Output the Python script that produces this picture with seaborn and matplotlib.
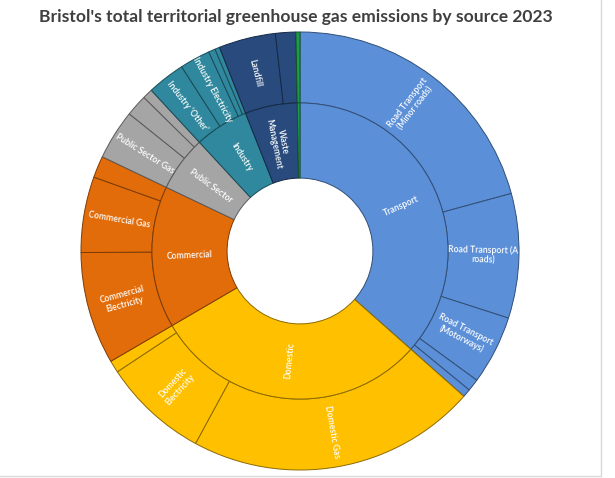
import numpy as np
import pandas as pd
import matplotlib
matplotlib.use("Agg")
import matplotlib.pyplot as plt
import matplotlib.colors as mcolors
from matplotlib.lines import Line2D
import seaborn as sns

# sectors (inner ring), clockwise from 12 o'clock
sectors = ["Transport", "Domestic", "Commercial", "Public Sector",
           "Industry", "Waste\nManagement", "Agriculture"]
sector_colours = ["#5B8FD8", "#FFC000", "#E36C0A", "#A5A5A5",
                  "#2F889D", "#284A7C", "#1F9A48"]

# sources (outer ring), % share of total emissions
sources = ["Road Transport\n(Minor roads)", "Road Transport (A\nroads)",
           "Road Transport\n(Motorways)", "Rail", "Other Transport",
           "Domestic Gas", "Domestic\nElectricity", "Domestic Other",
           "Commercial\nElectricity", "Commercial Gas", "Commercial Other",
           "Public Sector Gas", "Public Sector Electricity", "Public Sector Other",
           "Industry \u2018Other\u2019", "Industry Electricity", "Industry Gas",
           "Industry Other Fuels",
           "Landfill", "Wastewater",
           "Agriculture"]
source_sector = ["Transport"] * 5 + ["Domestic"] * 3 + ["Commercial"] * 3 + \
                ["Public Sector"] * 3 + ["Industry"] * 4 + \
                ["Waste\nManagement"] * 2 + ["Agriculture"]
source_share = [20.8, 9.2, 5.1, 0.9, 0.6,
                21.4, 7.8, 0.9,
                8.3, 5.6, 1.6,
                3.7, 1.6, 0.75,
                2.8, 2.25, 0.5, 0.35,
                4.2, 1.5,
                0.3]

df = pd.DataFrame({"source": sources, "sector": source_sector, "share": source_share})
totals = df.groupby("sector", sort=False)["share"].sum().reindex(sectors)

sns.set_theme(style="white")
plt.rcParams["font.family"] = ["Lato", "DejaVu Sans"]

fig = plt.figure(figsize=(6.15, 4.78), dpi=100)
ax = fig.add_axes([81 / 615, 8 / 478, 438 / 615, 438 / 478])

colour_of = dict(zip(sectors, sector_colours))


def darker(c, f=0.55):
    r, g, b = mcolors.to_rgb(c)
    return (r * f, g * f, b * f)


R_OUT, R_MID, R_IN = 1.0, 0.676, 0.333

outer_cols = [colour_of[s] for s in df["sector"]]
w_out, _ = ax.pie(df["share"], radius=R_OUT, startangle=90, counterclock=False,
                  colors=outer_cols, wedgeprops=dict(width=R_OUT - R_MID, linewidth=0.7))
for w, c in zip(w_out, outer_cols):
    w.set_edgecolor(darker(c))

w_in, _ = ax.pie(totals.values, radius=R_MID, startangle=90, counterclock=False,
                 colors=sector_colours, wedgeprops=dict(width=R_MID - R_IN, linewidth=0.7))
for w, c in zip(w_in, sector_colours):
    w.set_edgecolor(darker(c))


def add_labels(names, values, r, min_share=2.0):
    values = np.asarray(values, dtype=float)
    frac = values / values.sum()
    ends = np.cumsum(frac) * 360
    starts = ends - frac * 360
    for name, v, a0, a1 in zip(names, values, starts, ends):
        if v < min_share:
            continue
        mid = (a0 + a1) / 2
        t = np.radians(mid)
        rot = 90 - mid
        while rot <= -180:
            rot += 360
        if rot < -90:
            rot += 180
        elif rot > 90:
            rot -= 180
        ax.text(r * np.sin(t), r * np.cos(t), name, rotation=rot,
                rotation_mode="anchor", ha="center", va="center",
                multialignment="center", fontsize=6.2, color="white",
                fontweight="semibold", linespacing=1.1)


add_labels(df["source"], df["share"], (R_OUT + R_MID) / 2)
add_labels(totals.index, totals.values, (R_MID + R_IN) / 2)

ax.set_xlim(-1, 1)
ax.set_ylim(-1, 1)
ax.set_aspect("equal")
ax.axis("off")

fig.text(296 / 615, 1 - 17 / 478,
         "Bristol's total territorial greenhouse gas emissions by source 2023",
         ha="center", va="center", fontsize=12.6, fontweight="bold", color="#3F3F3F")

# light chart frame on right and bottom
fig.add_artist(Line2D([601 / 615, 601 / 615], [2 / 478, 1], color="#D9D9D9", lw=1))
fig.add_artist(Line2D([0, 601 / 615], [2 / 478, 2 / 478], color="#D9D9D9", lw=1))

fig.savefig("out.png", dpi=100)
